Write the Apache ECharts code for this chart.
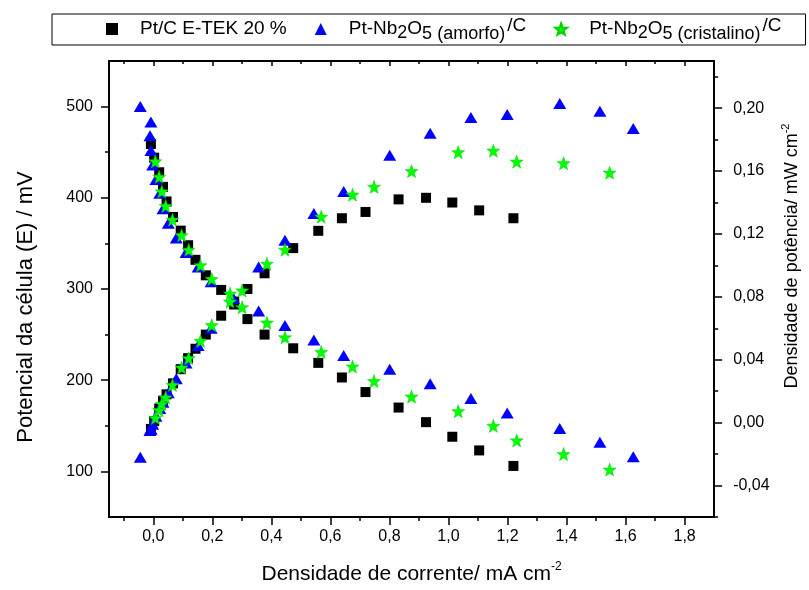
<!DOCTYPE html>
<html>
<head>
<meta charset="utf-8">
<script src="https://cdn.jsdelivr.net/npm/echarts@6/dist/echarts.min.js"></script>
<style>
  html, body { margin: 0; padding: 0; background: #fff; }
  #chart { width: 809px; height: 590px; }
</style>
</head>
<body>
<div id="chart"></div>
<script>
// Current density (mA cm-2), cell potential (mV) and power density (mW cm-2)
const etekI = [-0.008, 0.003, 0.020, 0.033, 0.045, 0.067, 0.093, 0.118, 0.143, 0.178, 0.230, 0.274, 0.319, 0.377, 0.474, 0.559, 0.639, 0.719, 0.831, 0.924, 1.013, 1.104, 1.220];
const etekE = [459, 444, 428, 412, 396, 379, 364, 348, 332, 315, 299, 283, 267, 250, 235, 219, 203, 187, 170, 154, 138, 123, 106];
const etekP = [-0.004, 0.001, 0.009, 0.014, 0.018, 0.025, 0.034, 0.041, 0.047, 0.056, 0.068, 0.077, 0.085, 0.095, 0.111, 0.122, 0.130, 0.134, 0.142, 0.143, 0.140, 0.135, 0.130];

const amorfoI = [-0.044, -0.008, -0.011, -0.008, -0.002, 0.009, 0.022, 0.033, 0.051, 0.078, 0.111, 0.152, 0.196, 0.271, 0.357, 0.446, 0.544, 0.645, 0.801, 0.938, 1.076, 1.199, 1.377, 1.513, 1.626];
const amorfoE = [500, 483, 468, 452, 436, 420, 405, 388, 372, 356, 340, 324, 308, 290, 276, 260, 244, 227, 212, 196, 180, 164, 147, 132, 116];
const amorfoP = [-0.022, -0.004, -0.005, -0.004, -0.001, 0.004, 0.009, 0.013, 0.019, 0.028, 0.038, 0.049, 0.060, 0.079, 0.099, 0.116, 0.133, 0.147, 0.170, 0.184, 0.194, 0.196, 0.203, 0.198, 0.187];

const cristI = [0.007, 0.020, 0.029, 0.042, 0.065, 0.096, 0.120, 0.160, 0.198, 0.260, 0.301, 0.385, 0.446, 0.569, 0.675, 0.748, 0.875, 1.033, 1.152, 1.231, 1.390, 1.546];
const cristE = [440, 423, 407, 391, 376, 359, 343, 326, 311, 295, 280, 263, 247, 231, 215, 199, 182, 166, 150, 134, 119, 102];
const cristP = [0.003, 0.008, 0.012, 0.016, 0.024, 0.035, 0.041, 0.052, 0.062, 0.077, 0.084, 0.101, 0.110, 0.131, 0.145, 0.150, 0.160, 0.172, 0.173, 0.166, 0.165, 0.159];

const seriesNames = ['Pt/C E-TEK 20 %', 'Pt-Nb2O5 (amorfo)/C', 'Pt-Nb2O5 (cristalino)/C'];

// Tick values
const xTicks = [0, 0.2, 0.4, 0.6, 0.8, 1.0, 1.2, 1.4, 1.6, 1.8];
const leftTicks = [100, 200, 300, 400, 500];
const rightTicks = [-0.04, 0, 0.04, 0.08, 0.12, 0.16, 0.20];
const rightMinorTicks = [-0.06, -0.02, 0.02, 0.06, 0.10, 0.14, 0.18, 0.22];

const FONT = 'Liberation Sans, Arial, Helvetica, sans-serif';
const STAR = 'path://M0,-10L2.35,-3.24L9.51,-3.09L3.8,1.24L5.88,8.09L0,4.4L-5.88,8.09L-3.8,1.24L-9.51,-3.09L-2.35,-3.24Z';

const pairs = (xs, ys) => xs.map((x, i) => [x, ys[i]]);

const legendLabels = {
  'Pt/C E-TEK 20 %': 'Pt/C E-TEK 20 %',
  'Pt-Nb2O5 (amorfo)/C': 'Pt-Nb{s2|2}O{s5|5 (amorfo)}{sup|/C}',
  'Pt-Nb2O5 (cristalino)/C': 'Pt-Nb{s2|2}O{s5|5 (cristalino)}{sup|/C}'
};

const axisLine = { show: true, onZero: false, lineStyle: { color: '#000', width: 2 } };
const tickLine = { color: '#000', width: 1.5 };
const labelStyle = { color: '#000', fontSize: 16, fontFamily: FONT };

const option = {
  animation: false,
  backgroundColor: '#fff',
  textStyle: { fontFamily: FONT, color: '#000' },
  grid: { left: 109, right: 87, top: 61, bottom: 73, containLabel: false },
  legend: {
    data: seriesNames,
    left: 52,
    top: 14,
    padding: [2, 24, 2, 54],
    itemGap: 28,
    itemWidth: 12,
    itemHeight: 12,
    borderColor: '#000',
    borderWidth: 1,
    selectedMode: false,
    formatter: name => legendLabels[name],
    textStyle: {
      color: '#000', fontSize: 19, fontFamily: FONT, padding: [0, 0, 0, 17],
      rich: {
        s2: { fontSize: 18, fontFamily: FONT, color: '#000', padding: [9, 0, 0, 0] },
        s5: { fontSize: 18, fontFamily: FONT, color: '#000', padding: [10, 1, 0, 0] },
        sup: { fontSize: 19, fontFamily: FONT, color: '#000', padding: [0, 0, 7, 1] }
      }
    }
  },
  xAxis: [
    {
      type: 'value', position: 'bottom', min: -0.15, max: 1.9, splitNumber: 10,
      axisLine: axisLine,
      axisTick: { show: true, length: 8, customValues: xTicks, lineStyle: tickLine },
      minorTick: { show: true, splitNumber: 2, length: 4, lineStyle: tickLine },
      axisLabel: { ...labelStyle, margin: 12, customValues: xTicks, formatter: v => v.toFixed(1).replace('.', ',') },
      splitLine: { show: false },
      name: 'Densidade de corrente/ mA cm{sup|-2}',
      nameLocation: 'middle',
      nameGap: 44,
      nameTextStyle: {
        color: '#000', fontSize: 21, fontFamily: FONT,
        rich: { sup: { fontSize: 12, fontFamily: FONT, color: '#000', padding: [0, 0, 14, 0] } }
      }
    },
    {
      type: 'value', position: 'top', min: -0.15, max: 1.9, splitNumber: 10,
      axisLine: axisLine,
      axisTick: { show: true, inside: true, length: 5, customValues: xTicks, lineStyle: tickLine },
      minorTick: { show: true, splitNumber: 2, length: 3, lineStyle: tickLine },
      axisLabel: { show: false },
      splitLine: { show: false }
    }
  ],
  yAxis: [
    {
      type: 'value', position: 'left', min: 50, max: 550, splitNumber: 5,
      axisLine: axisLine,
      axisTick: { show: true, length: 8, customValues: leftTicks, lineStyle: tickLine },
      minorTick: { show: true, splitNumber: 2, length: 4, lineStyle: tickLine },
      axisLabel: { ...labelStyle, margin: 16, customValues: leftTicks, formatter: v => String(v) },
      splitLine: { show: false },
      name: 'Potencial da célula (E) / mV',
      nameLocation: 'middle',
      nameRotate: 90,
      nameGap: 72,
      nameTextStyle: { color: '#000', fontSize: 22, fontFamily: FONT, padding: [0, 36, 0, 0] }
    },
    {
      type: 'value', position: 'right', min: -0.06, max: 0.23,
      axisLine: axisLine,
      axisTick: { show: true, length: 8, customValues: rightTicks, lineStyle: tickLine },
      axisLabel: { ...labelStyle, margin: 19, customValues: rightTicks, formatter: v => v.toFixed(2).replace('.', ',') },
      splitLine: { show: false },
      name: 'Densidade de potência/ mW cm{sup|-2}',
      nameLocation: 'middle',
      nameRotate: 90,
      nameGap: 62,
      nameTextStyle: {
        color: '#000', fontSize: 18, fontFamily: FONT, padding: [0, 0, 0, 66],
        rich: { sup: { fontSize: 11, fontFamily: FONT, color: '#000', padding: [0, 0, 12, 0] } }
      }
    },
    {
      // minor ticks of the power axis
      type: 'value', position: 'right', min: -0.06, max: 0.23,
      axisLine: { show: false, onZero: false },
      axisTick: { show: true, length: 4, customValues: rightMinorTicks, lineStyle: tickLine },
      axisLabel: { show: false },
      splitLine: { show: false }
    }
  ],
  series: [
    { type: 'scatter', name: seriesNames[0], xAxisIndex: 0, yAxisIndex: 0, data: pairs(etekI, etekE),
      symbol: 'rect', symbolSize: 10, itemStyle: { color: '#000000', opacity: 1 }, z: 2 },
    { type: 'scatter', name: seriesNames[0], xAxisIndex: 0, yAxisIndex: 1, data: pairs(etekI, etekP),
      symbol: 'rect', symbolSize: 10, itemStyle: { color: '#000000', opacity: 1 }, z: 2 },
    { type: 'scatter', name: seriesNames[1], xAxisIndex: 0, yAxisIndex: 0, data: pairs(amorfoI, amorfoE),
      symbol: 'triangle', symbolSize: [13, 11], itemStyle: { color: '#0000ff', opacity: 1 }, z: 3 },
    { type: 'scatter', name: seriesNames[1], xAxisIndex: 0, yAxisIndex: 1, data: pairs(amorfoI, amorfoP),
      symbol: 'triangle', symbolSize: [13, 11], itemStyle: { color: '#0000ff', opacity: 1 }, z: 3 },
    { type: 'scatter', name: seriesNames[2], xAxisIndex: 0, yAxisIndex: 0, data: pairs(cristI, cristE),
      symbol: STAR, symbolSize: 13, itemStyle: { color: '#00ff00', borderColor: '#00d000', borderWidth: 0.5, opacity: 1 }, z: 4 },
    { type: 'scatter', name: seriesNames[2], xAxisIndex: 0, yAxisIndex: 1, data: pairs(cristI, cristP),
      symbol: STAR, symbolSize: 13, itemStyle: { color: '#00ff00', borderColor: '#00d000', borderWidth: 0.5, opacity: 1 }, z: 4 }
  ]
};

const chart = echarts.init(document.getElementById('chart'), null, { renderer: 'canvas' });
chart.setOption(option);
</script>
</body>
</html>
